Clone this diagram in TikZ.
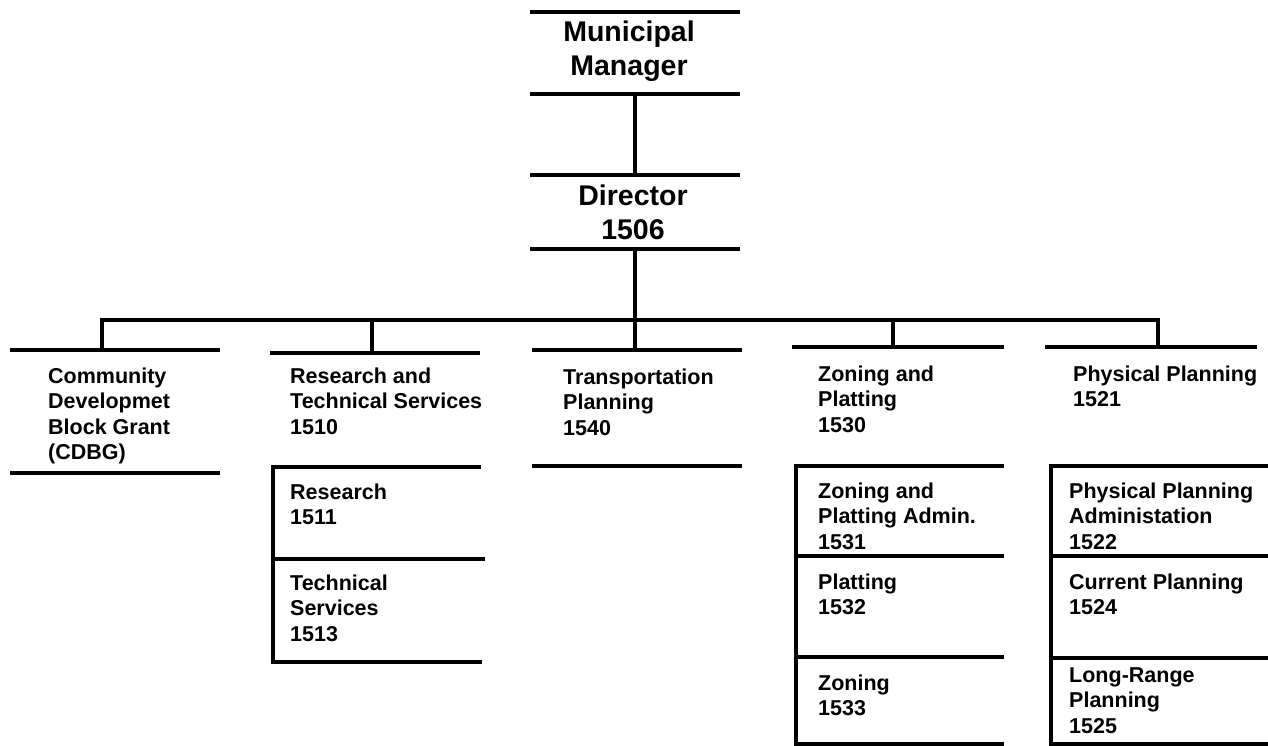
\documentclass[tikz,border=0pt]{standalone}
\usepackage{fontspec}
\setmainfont{Liberation Sans}
\begin{document}
\begin{tikzpicture}[x=1pt,y=-1pt,
  rule/.style={line width=4pt},
  link/.style={line width=4pt, line join=miter},
  lbl/.style={anchor=base west, font=\bfseries\fontsize{21.5}{25.5}\selectfont, align=left, inner sep=0pt},
  ttl/.style={anchor=base, font=\bfseries\fontsize{28.5}{34}\selectfont, align=center, inner sep=0pt}]
\useasboundingbox (0,0) rectangle (1268,746);

% Municipal Manager (base anchor = last line baseline)
\draw[rule] (530,12) -- (740,12);
\node[ttl] (mm) at (629,76) {Municipal\\Manager};
\draw[rule] (530,94) -- (740,94);
\coordinate (mmb) at (635,94);

% Director
\draw[rule] (530,175) -- (740,175);
\coordinate (dirt) at (635,175);
\node[ttl] (dir) at (633,239) {Director\\1506};
\draw[rule] (530,249) -- (740,249);
\coordinate (dirb) at (635,249);

\draw[link] (mmb) -- (dirt);

% bus
\coordinate (busL) at (102,320);
\coordinate (busR) at (1158,320);
\coordinate (busC) at (635,320);
\coordinate (cdbgT) at (102,350);
\coordinate (rtsT) at (372,353);
\coordinate (trT) at (635,350);
\coordinate (zpT) at (893,347);
\coordinate (ppT) at (1158,347);
\draw[link] (dirb) -- (busC);
\draw[link] (cdbgT) -- (busL) -- (busR) -- (ppT);
\draw[link] (rtsT) -- (rtsT |- busC);
\draw[link] (trT) -- (busC);
\draw[link] (zpT) -- (zpT |- busC);

% CDBG
\draw[rule] (10,350) -- (220,350);
\node[lbl] (cdbg) at (48,459.5) {Community\\Developmet\\Block Grant\\(CDBG)};
\draw[rule] (10,473) -- (220,473);

% Research and Technical Services
\draw[rule] (270,353) -- (480,353);
\node[lbl] (rts) at (290,434) {Research and\\Technical Services\\1510};
\draw[rule] (481,467) -- (273,467) -- (273,662) -- (482,662);
\draw[rule] (273,559) -- (485,559);
\node[lbl] (res) at (290,524.5) {Research\\1511};
\node[lbl] (tec) at (290,641) {Technical\\Services\\1513};

% Transportation Planning
\draw[rule] (532,350) -- (742,350);
\node[lbl] (tr) at (563,435) {Transportation\\Planning\\1540};
\draw[rule] (532,466) -- (742,466);

% Zoning and Platting
\draw[rule] (792,347) -- (1004,347);
\node[lbl] (zp) at (818,432) {Zoning and\\Platting\\1530};
\draw[rule] (1004,466) -- (796,466) -- (796,746);
\draw[rule] (796,556) -- (1004,556);
\draw[rule] (796,657) -- (1004,657);
\draw[rule] (796,744) -- (1004,744);
\node[lbl] (zpa) at (818,549) {Zoning and\\Platting Admin.\\1531};
\node[lbl] (pl) at (818,614.5) {Platting\\1532};
\node[lbl] (zo) at (818,715.5) {Zoning\\1533};

% Physical Planning
\draw[rule] (1045,347) -- (1257,347);
\node[lbl] (pp) at (1073,406.5) {Physical Planning\\1521};
\draw[rule] (1268,466) -- (1051,466) -- (1051,746);
\draw[rule] (1051,556) -- (1268,556);
\draw[rule] (1051,658) -- (1268,658);
\draw[rule] (1051,744) -- (1268,744);
\node[lbl] (ppa) at (1069,549) {Physical Planning\\Administation\\1522};
\node[lbl] (cp) at (1069,614.5) {Current Planning\\1524};
\node[lbl] (lr) at (1069,733) {Long-Range\\Planning\\1525};
\end{tikzpicture}
\end{document}
